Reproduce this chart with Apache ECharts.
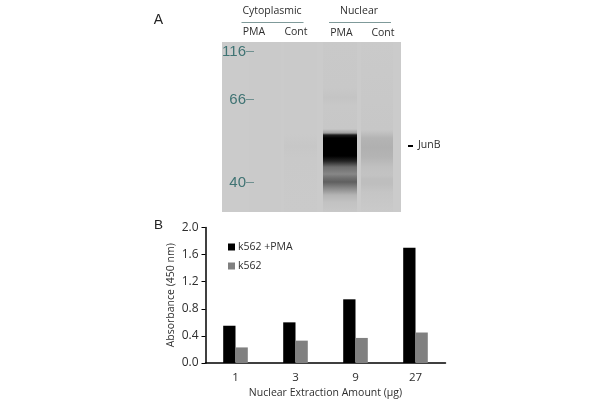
<!DOCTYPE html>
<html><head><meta charset="utf-8">
<style>html,body{margin:0;padding:0;background:#fff}#c{width:600px;height:400px}</style>
<script src="https://cdn.jsdelivr.net/npm/echarts@6/dist/echarts.min.js"></script>
</head><body><div id="c"></div>
<script>
const categories = ['1','3','9','27'];
const k562PMA = [0.55,0.60,0.94,1.70];
const k562 = [0.23,0.33,0.37,0.45];
const yTicks = ['0.0','0.4','0.8','1.2','1.6','2.0'];
const laneX0 = [249,284,323,361];
const laneX1 = [281,317,357,393];
const profileCytPMA = [[0,202],[170,202]];
const profileCytCont = [[0,202],[92,202],[104,199],[116,201],[170,202]];
const profileNucPMA = [[0,201],[46,200],[55,196],[64,200],[87,199],[91,160],[93,30],[96,0],[114,0],[119,35],[125,110],[132,135],[136,112],[140,95],[146,135],[153,180],[160,194],[170,200]];
const profileNucCont = [[0,202],[88,199],[96,180],[105,176],[115,180],[125,192],[133,195],[137,190],[142,190],[150,197],[170,202]];
const profiles = [profileCytPMA, profileCytCont, profileNucPMA, profileNucCont];
const bandNames = ['PMA','Cont','PMA','Cont'];
const markers = ['116','66','40'];

const FONT = '"Open Sans", "Noto Sans", sans-serif';
const TXT = '#2e2e2e';
const chart = echarts.init(document.getElementById('c'), null, {renderer:'canvas'});
const gray = v => 'rgb('+v+','+v+','+v+')';
function text(x,y,s,size,color,align,family){
  return {type:'text',x:x,y:y,silent:true,z:10,style:{text:s,fontFamily:family||FONT,fontSize:size,fill:color||TXT,align:align||'center',verticalAlign:'middle'}};
}
function rect(x,y,w,h,fill){return {type:'rect',silent:true,z:10,shape:{x:x,y:y,width:w,height:h},style:{fill:fill}};}
const laneData = laneX0.map((x,i)=>[x-222,laneX1[i]-222,i]);
const ARIAL = '"Liberation Sans", sans-serif';

chart.setOption({
  animation:false,
  backgroundColor:'#fff',
  textStyle:{fontFamily:FONT},
  grid:[
    {left:205.5,top:227.5,width:240,height:136,containLabel:false},
    {left:222,top:42,width:179,height:170,containLabel:false}
  ],
  xAxis:[
    {type:'category',gridIndex:0,data:categories,
     axisLine:{lineStyle:{color:'#000',width:1.5}},axisTick:{show:false},
     axisLabel:{color:TXT,fontSize:11.5,margin:9,fontFamily:FONT},
     name:'Nuclear Extraction Amount (µg)',nameLocation:'middle',nameGap:25,
     nameTextStyle:{color:TXT,fontSize:10.5,fontFamily:FONT}},
    {type:'value',gridIndex:1,min:0,max:179,show:false}
  ],
  yAxis:[
    {type:'value',gridIndex:0,min:0,max:2,interval:0.4,
     axisLine:{show:true,lineStyle:{color:'#000',width:1.5}},
     axisTick:{show:true,length:4,lineStyle:{color:'#000'}},
     splitLine:{show:false},
     axisLabel:{color:TXT,fontSize:12,margin:7,fontFamily:FONT,formatter:(v)=>yTicks[Math.round(v/0.4)]},
     name:'Absorbance (450 nm)',nameLocation:'middle',nameGap:29,
     nameTextStyle:{color:TXT,fontSize:10.5,fontFamily:FONT}},
    {type:'value',gridIndex:1,min:0,max:170,inverse:true,show:false}
  ],
  legend:{orient:'vertical',left:223,top:236.5,itemWidth:7,itemHeight:7,itemGap:8,
    textStyle:{color:TXT,fontSize:10.5,fontFamily:FONT,padding:[0,0,0,-2]},
    data:[{name:'k562 +PMA',icon:'rect'},{name:'k562',icon:'rect'}]},
  series:[
    {name:'k562 +PMA',type:'bar',xAxisIndex:0,yAxisIndex:0,data:k562PMA,barWidth:12.3,barGap:'0%',itemStyle:{color:'#000'}},
    {name:'k562',type:'bar',xAxisIndex:0,yAxisIndex:0,data:k562,barWidth:12.3,barGap:'0%',itemStyle:{color:'#808080'}},
    {type:'custom',xAxisIndex:1,yAxisIndex:1,silent:true,data:laneData,coordinateSystem:'cartesian2d',
     encode:{x:[0,1]},z:1,
     renderItem:function(params,api){
       const a=api.coord([api.value(0),0]), b=api.coord([api.value(1),170]);
       const p=profiles[api.value(2)];
       return {type:'rect',shape:{x:a[0],y:a[1],width:b[0]-a[0],height:b[1]-a[1]},
         style:{fill:new echarts.graphic.LinearGradient(0,0,0,1,p.map(s=>({offset:s[0]/170,color:gray(s[1])})))}};
     }}
  ],
  graphic:{elements:[
    Object.assign(rect(222,42,179,170,'#cbcbcb'),{z:-1}),
    text(158.5,20,'A',14,'#222','center',ARIAL),
    text(158.5,225,'B',13.5,'#222','center',ARIAL),
    text(272,11.5,'Cytoplasmic',10.5),
    text(359,11.5,'Nuclear',10.5),
    rect(241.5,22,62,1,'#7f9a9a'),
    rect(329,22,62,1,'#7f9a9a'),
    text(254,32,bandNames[0],10.5),
    text(296,32,bandNames[1],10.5),
    text(341.5,33,bandNames[2],10.5),
    text(383,33,bandNames[3],10.5),
    text(246,51.5,markers[0],15,'#3f7373','right',ARIAL),
    text(246,99.5,markers[1],15,'#3f7373','right',ARIAL),
    text(246,182.5,markers[2],15,'#3f7373','right',ARIAL),
    rect(246,51,8,1,'#6f9090'),
    rect(246,99,8,1,'#6f9090'),
    rect(246,182,8,1,'#6f9090'),
    rect(408,145,5,2,'#000'),
    text(418,145,'JunB',10.5,TXT,'left')
  ]}
});
</script></body></html>
